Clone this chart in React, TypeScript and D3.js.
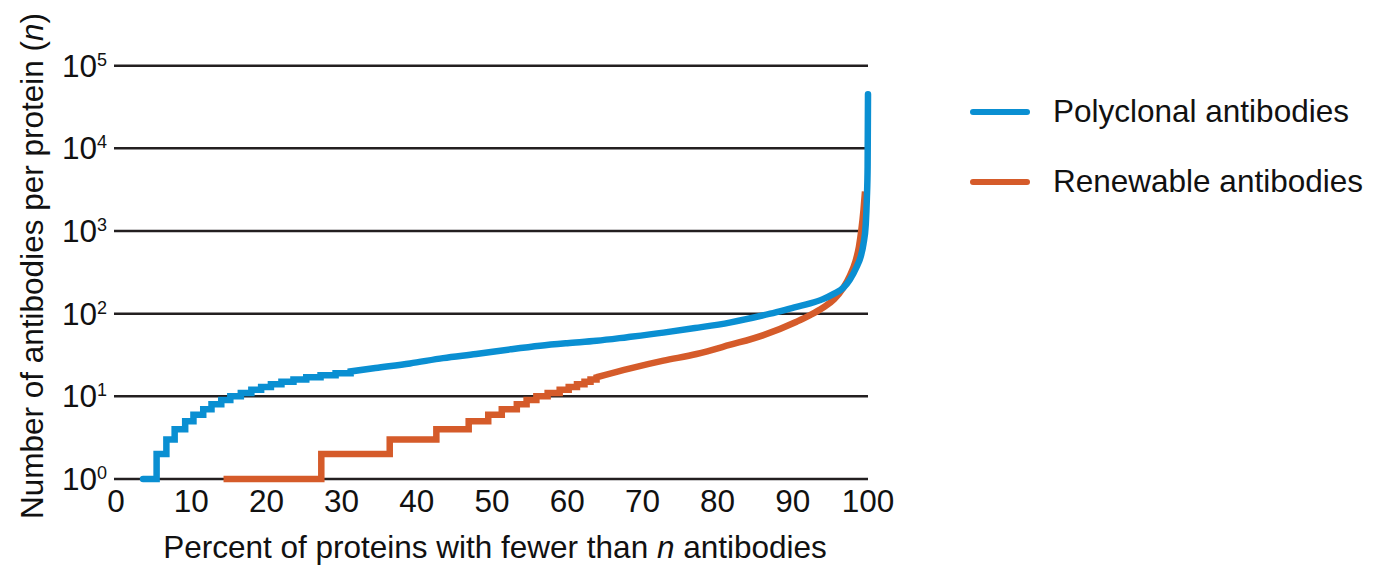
import React from "react";
import * as d3 from "d3";

// Polyclonal antibodies: integer-count steps (percent where n starts), then smooth tail
const polyStepPct = [3.6, 5.4, 6.7, 7.8, 9.2, 10.3, 11.6, 12.7, 14.0, 15.2, 16.6, 18.0, 19.3, 20.6, 22.0, 23.6, 25.3, 27.2, 29.2, 31.2];
const polyStepN = [1, 2, 3, 4, 5, 6, 7, 8, 9, 10, 11, 12, 13, 14, 15, 16, 17, 18, 19, 20];
const polyTailPct = [31.2, 34.5, 39.1, 43.5, 47.9, 52.4, 56.4, 60, 63.9, 68, 72.8, 77, 81.6, 87, 90.5, 92.3, 94, 95.5, 96.7, 97.6, 98.5, 99.0, 99.4, 99.7, 99.85, 99.95, 100];
const polyTailN = [20, 22, 25, 29, 32.5, 37, 41, 44, 47, 52, 59, 67, 78, 100, 121, 133, 150, 175, 205, 260, 370, 480, 700, 1200, 2500, 6000, 45000];

// Renewable antibodies
const renewStepPct = [14.3, 27.3, 36.4, 42.6, 46.9, 49.5, 51.3, 53.3, 54.6, 55.9, 57.4, 59.0, 60.2, 61.3, 62.3, 63.1, 63.9];
const renewStepN = [1, 2, 3, 4, 5, 6, 7, 8, 9, 10, 11, 12, 13, 14, 15, 16, 17];
const renewTailPct = [63.9, 68.4, 72.8, 77.2, 81.6, 86.1, 90.5, 92.3, 94, 95.5, 96.7, 97.6, 98.3, 98.8, 99.1, 99.4, 99.6];
const renewTailN = [17, 21.8, 27, 32.5, 41.8, 55, 80, 96, 118, 150, 205, 290, 420, 650, 1000, 1800, 3000];

const xTicks = [0, 10, 20, 30, 40, 50, 60, 70, 80, 90, 100];
const yExponents = [0, 1, 2, 3, 4, 5];

const seriesNames = ["Polyclonal antibodies", "Renewable antibodies"];
const seriesColors = ["#0a8fd2", "#d55b2a"];

const FONT = "Liberation Sans, Arial, Helvetica, sans-serif";
const FS = 31.5;

export default function App() {
  const x = d3.scaleLinear().domain([0, 100]).range([116, 868]);
  const y = d3.scaleLog().domain([1, 100000]).range([479, 65.7]);

  const stepLine = d3
    .line<[number, number]>()
    .x((d) => x(d[0]))
    .y((d) => y(d[1]))
    .curve(d3.curveStepAfter);
  const smoothLine = d3
    .line<[number, number]>()
    .x((d) => x(d[0]))
    .y((d) => y(d[1]))
    .curve(d3.curveMonotoneX);

  const buildPath = (sp: number[], sn: number[], tp: number[], tn: number[]) => {
    const s = stepLine(sp.map((p, i) => [p, sn[i]] as [number, number])) || "";
    const t = smoothLine(tp.map((p, i) => [p, tn[i]] as [number, number])) || "";
    return s + t.replace(/^M/, "L");
  };

  const polyPath = buildPath(polyStepPct, polyStepN, polyTailPct, polyTailN);
  const renewPath = buildPath(renewStepPct, renewStepN, renewTailPct, renewTailN);

  return (
    <svg
      width={1381}
      height={571}
      style={{ position: "absolute", left: 0, top: 0, background: "#fff" }}
      fontFamily={FONT}
    >
      {/* gridlines */}
      {yExponents.map((e) => (
        <line
          key={"g" + e}
          x1={114}
          x2={868}
          y1={y(Math.pow(10, e))}
          y2={y(Math.pow(10, e))}
          stroke="#231f20"
          strokeWidth={2.5}
        />
      ))}
      {/* y tick labels */}
      {yExponents.map((e) => (
        <text
          key={"yl" + e}
          x={107}
          y={y(Math.pow(10, e)) + 11}
          textAnchor="end"
          fontSize={FS}
          fill="#111"
        >
          10
          <tspan dy={-11} fontSize={18}>
            {e}
          </tspan>
        </text>
      ))}
      {/* x tick labels */}
      {xTicks.map((t) => (
        <text key={"xl" + t} x={x(t)} y={512} textAnchor="middle" fontSize={FS} fill="#111">
          {t}
        </text>
      ))}
      {/* axis titles */}
      <text x={495} y={558} textAnchor="middle" fontSize={FS} fill="#111">
        Percent of proteins with fewer than <tspan fontStyle="italic">n</tspan> antibodies
      </text>
      <text
        transform={`translate(43,266) rotate(-90)`}
        textAnchor="middle"
        fontSize={FS}
        fill="#111"
      >
        Number of antibodies per protein (<tspan fontStyle="italic">n</tspan>)
      </text>

      {/* series */}
      <path d={renewPath} fill="none" stroke={seriesColors[1]} strokeWidth={6.5} strokeLinecap="butt" strokeLinejoin="miter" />
      <path d={polyPath} fill="none" stroke={seriesColors[0]} strokeWidth={6.5} strokeLinecap="round" strokeLinejoin="miter" />

      {/* legend */}
      {seriesNames.map((name, i) => (
        <g key={name} transform={`translate(0, ${i * 70})`}>
          <line x1={973} x2={1027} y1={112} y2={112} stroke={seriesColors[i]} strokeWidth={6} strokeLinecap="round" />
          <text x={1053} y={122} fontSize={FS} fill="#111">
            {name}
          </text>
        </g>
      ))}
    </svg>
  );
}
